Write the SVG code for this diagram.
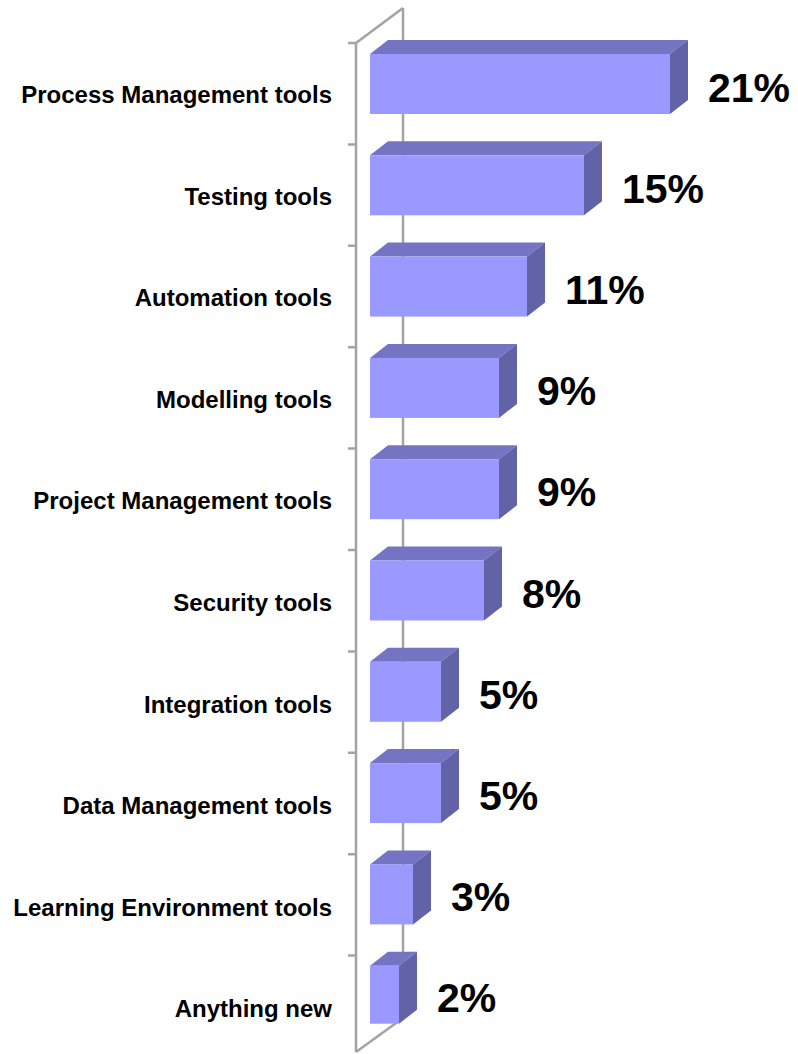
<svg xmlns="http://www.w3.org/2000/svg" width="798" height="1054" viewBox="0 0 798 1054">
<style>
.wall{stroke:#a3a3a3;stroke-width:2.5;fill:none}
.front{fill:#9999FF}
.top{fill:#7474C2}
.side{fill:#6262A6}
.lbl{font-family:"Liberation Sans",Arial,sans-serif;font-weight:bold;font-size:24px;fill:#000;text-anchor:end}
.val{font-family:"Liberation Sans",Arial,sans-serif;font-weight:bold;font-size:41px;fill:#000}
</style>
<g id="axis">
<path class="wall" d="M356,43 L356,1052 M403,8 L403,1018 M356,43 L403,8 M356,1052 L403,1018"/>
<path class="wall" d="M348,43 H356 M348,144.4 H356 M348,245.8 H356 M348,347.2 H356 M348,448.6 H356 M348,550 H356 M348,651.4 H356 M348,752.8 H356 M348,854.2 H356 M348,955.6 H356"/>
</g>
<g id="bar1"><polygon class="top" points="370,54 388,40 688,40 670,54"/><polygon class="side" points="670,54 688,40 688,100 670,114"/><rect class="front" x="370" y="54" width="300" height="60"/><text class="lbl" x="332" y="103">Process Management tools</text><text class="val" x="708" y="102">21%</text></g>
<g id="bar2"><polygon class="top" points="370,155.3 388,141.3 602,141.3 584,155.3"/><polygon class="side" points="584,155.3 602,141.3 602,201.3 584,215.3"/><rect class="front" x="370" y="155.3" width="214" height="60"/><text class="lbl" x="332" y="204.6">Testing tools</text><text class="val" x="622" y="203.1">15%</text></g>
<g id="bar3"><polygon class="top" points="370,256.6 388,242.6 545,242.6 527,256.6"/><polygon class="side" points="527,256.6 545,242.6 545,302.6 527,316.6"/><rect class="front" x="370" y="256.6" width="157" height="60"/><text class="lbl" x="332" y="306.2">Automation tools</text><text class="val" x="565" y="304.2">11%</text></g>
<g id="bar4"><polygon class="top" points="370,357.9 388,343.9 517,343.9 499,357.9"/><polygon class="side" points="499,357.9 517,343.9 517,403.9 499,417.9"/><rect class="front" x="370" y="357.9" width="129" height="60"/><text class="lbl" x="332" y="407.8">Modelling tools</text><text class="val" x="537" y="405.3">9%</text></g>
<g id="bar5"><polygon class="top" points="370,459.2 388,445.2 517,445.2 499,459.2"/><polygon class="side" points="499,459.2 517,445.2 517,505.2 499,519.2"/><rect class="front" x="370" y="459.2" width="129" height="60"/><text class="lbl" x="332" y="509.4">Project Management tools</text><text class="val" x="537" y="506.4">9%</text></g>
<g id="bar6"><polygon class="top" points="370,560.5 388,546.5 502,546.5 484,560.5"/><polygon class="side" points="484,560.5 502,546.5 502,606.5 484,620.5"/><rect class="front" x="370" y="560.5" width="114" height="60"/><text class="lbl" x="332" y="611">Security tools</text><text class="val" x="522" y="607.5">8%</text></g>
<g id="bar7"><polygon class="top" points="370,661.8 388,647.8 459,647.8 441,661.8"/><polygon class="side" points="441,661.8 459,647.8 459,707.8 441,721.8"/><rect class="front" x="370" y="661.8" width="71" height="60"/><text class="lbl" x="332" y="712.6">Integration tools</text><text class="val" x="479" y="708.6">5%</text></g>
<g id="bar8"><polygon class="top" points="370,763.1 388,749.1 459,749.1 441,763.1"/><polygon class="side" points="441,763.1 459,749.1 459,809.1 441,823.1"/><rect class="front" x="370" y="763.1" width="71" height="60"/><text class="lbl" x="332" y="814.2">Data Management tools</text><text class="val" x="479" y="809.7">5%</text></g>
<g id="bar9"><polygon class="top" points="370,864.4 388,850.4 431,850.4 413,864.4"/><polygon class="side" points="413,864.4 431,850.4 431,910.4 413,924.4"/><rect class="front" x="370" y="864.4" width="43" height="60"/><text class="lbl" x="332" y="915.8">Learning Environment tools</text><text class="val" x="451" y="910.8">3%</text></g>
<g id="bar10"><polygon class="top" points="370,965.7 388,951.7 417,951.7 399,965.7"/><polygon class="side" points="399,965.7 417,951.7 417,1009.7 399,1023.7"/><rect class="front" x="370" y="965.7" width="29" height="58"/><text class="lbl" x="332" y="1017.4">Anything new</text><text class="val" x="437" y="1012">2%</text></g>
</svg>
